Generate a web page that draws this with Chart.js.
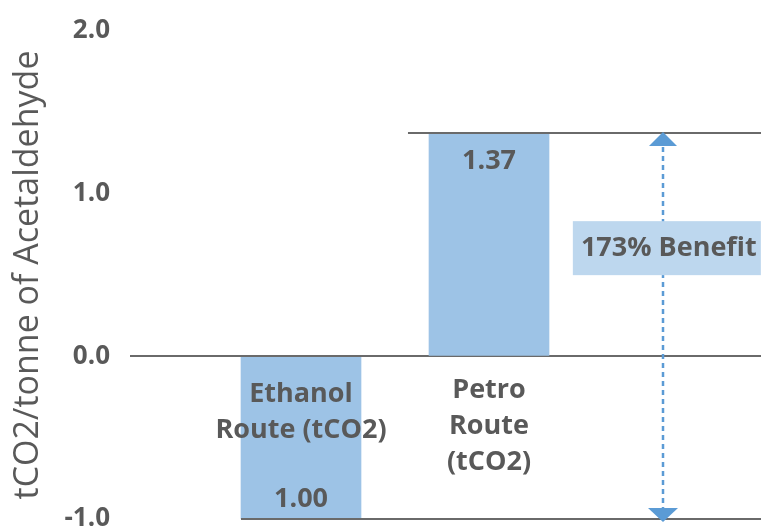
<!DOCTYPE html>
<html><head><meta charset="utf-8">
<script src="https://cdn.jsdelivr.net/npm/chart.js@4"></script>
<style>html,body{margin:0;padding:0;background:#fff}canvas{display:block}</style>
</head><body>
<canvas id="c" width="761" height="527"></canvas>
<script>
// ---- data ----
const categories = [['Ethanol', 'Route (tCO2)'], ['Petro', 'Route', '(tCO2)']];
const categoryIndex = [0, 1];
const values = [-1.00, 1.37];
const valueLabels = ['1.00', '1.37'];
const yTicks = [-1, 0, 1, 2];
const yTitle = 'tCO2/tonne of Acetaldehyde';
const benefitLabel = '173% Benefit';
const benefitFrom = 1.37;
const benefitTo = -1.00;

// ---- styles ----
const TEXT = '#595959';
const LINE = '#6a6a6a';
const BAR = '#9DC3E6';
const BOX = '#BDD7EE';
const ARROW = '#5B9BD5';
const FONT = "'Open Sans', 'DejaVu Sans', sans-serif";

const annot = {
  id: 'annot',
  afterDatasetsDraw(chart) {
    const ctx = chart.ctx;
    const xs = chart.scales.x, ys = chart.scales.y;
    const area = chart.chartArea;
    const meta = chart.getDatasetMeta(0);
    ctx.save();
    // reference lines
    ctx.strokeStyle = LINE; ctx.lineWidth = 2;
    const yTop = Math.round(ys.getPixelForValue(benefitFrom));
    const yBot = Math.round(ys.getPixelForValue(benefitTo));
    const bar0 = meta.data[0];
    ctx.beginPath();
    ctx.moveTo(xs.getPixelForValue(0.569), yTop); ctx.lineTo(area.right, yTop);
    ctx.moveTo(bar0.x - bar0.width / 2, yBot); ctx.lineTo(area.right, yBot);
    ctx.stroke();

    // dashed arrow
    const ax = Math.round(xs.getPixelForValue(1.926));
    ctx.strokeStyle = ARROW; ctx.lineWidth = 2.5;
    ctx.setLineDash([5, 4]);
    ctx.beginPath();
    ctx.moveTo(ax, yTop + 14); ctx.lineTo(ax, yBot - 11);
    ctx.stroke();
    ctx.setLineDash([]);
    ctx.fillStyle = ARROW;
    ctx.beginPath();
    ctx.moveTo(ax, yTop - 1); ctx.lineTo(ax - 14, yTop + 13); ctx.lineTo(ax + 14, yTop + 13); ctx.closePath();
    ctx.fill();
    ctx.beginPath();
    ctx.moveTo(ax, yBot + 3); ctx.lineTo(ax - 15, yBot - 11); ctx.lineTo(ax + 15, yBot - 11); ctx.closePath();
    ctx.fill();

    // benefit box and text
    const bx = xs.getPixelForValue(1.946), by = ys.getPixelForValue(0.665);
    ctx.fillStyle = BOX;
    ctx.fillRect(bx - 94, by - 27, 188, 54);
    ctx.fillStyle = TEXT;
    ctx.font = "bold 27px " + FONT;
    ctx.textAlign = 'center'; ctx.textBaseline = 'alphabetic';
    ctx.fillText(benefitLabel, bx + 2, by + 8);

    // value labels
    meta.data.forEach((bar, i) => {
      const v = values[i];
      const y = v >= 0 ? bar.y + 36 : bar.y - 12;
      ctx.fillText(valueLabels[i], bar.x, y);
    });

    // category labels under zero line
    const y0 = ys.getPixelForValue(0);
    const offs = [46, 42];
    categories.forEach((lines, i) => {
      const cx = xs.getPixelForValue(categoryIndex[i]);
      lines.forEach((t, j) => ctx.fillText(t, cx, y0 + offs[i] + j * 36));
    });
    ctx.restore();
  }
};

new Chart(document.getElementById('c'), {
  type: 'bar',
  data: {
    datasets: [{
      data: values.map((v, i) => ({ x: categoryIndex[i], y: v })),
      backgroundColor: BAR,
      borderWidth: 0,
      barThickness: 120
    }]
  },
  options: {
    responsive: false,
    animation: false,
    layout: { padding: { top: 31, bottom: 8, left: 0, right: 0 } },
    plugins: { legend: { display: false }, tooltip: { enabled: false } },
    scales: {
      x: { type: 'linear', display: false, offset: false, min: -0.9096, max: 2.4468, grid: { offset: false } },
      y: {
        min: -1, max: 2,
        afterBuildTicks(s) { s.ticks = yTicks.map(v => ({ value: v })); },
        afterFit(s) { s.width = 130; s.paddingTop = 0; s.paddingBottom = 0; },
        ticks: {
          callback: v => Number(v).toFixed(1),
          font: { family: FONT, weight: 'bold', size: 26 },
          color: TEXT, padding: 20
        },
        grid: {
          drawTicks: false, lineWidth: 2,
          color: c => (c.tick && c.tick.value === 0) ? LINE : 'rgba(0,0,0,0)'
        },
        border: { display: false },
        title: {
          display: true, text: yTitle, color: TEXT,
          font: { family: FONT, size: 34, weight: 'normal' },
          padding: { top: 8, bottom: 0 }
        }
      }
    }
  },
  plugins: [annot]
});
</script>
</body></html>
